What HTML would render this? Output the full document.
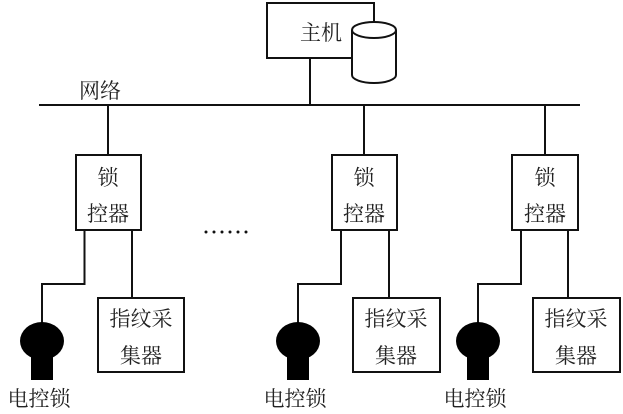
<!DOCTYPE html>
<html><head><meta charset="utf-8"><style>
html,body{margin:0;padding:0;background:#fff;}
svg{display:block}
text{font-family:"Liberation Serif","Noto Serif CJK SC","Noto Sans CJK SC",serif;font-size:21px;fill:#222;text-anchor:middle;}
</style></head><body>
<svg width="623" height="414" viewBox="0 0 623 414" xmlns="http://www.w3.org/2000/svg">
<g stroke="#111" stroke-width="2" fill="none">
<rect x="267" y="3" width="107" height="55" fill="#fff"/>
<path d="M352 30 V75 A22 8 0 0 0 396 75 V30" fill="#fff"/>
<ellipse cx="374" cy="30" rx="22" ry="8" fill="#fff"/>
<line x1="310" y1="58" x2="310" y2="105"/>
<line x1="39" y1="105" x2="580" y2="105"/>
<line x1="108" y1="105" x2="108" y2="155"/>
<line x1="364" y1="105" x2="364" y2="155"/>
<line x1="545" y1="105" x2="545" y2="155"/>
<rect x="76" y="155" width="65" height="75"/>
<rect x="332" y="155" width="65" height="75"/>
<rect x="512" y="155" width="66" height="75"/>
<polyline points="84.5,230 84.5,284 42,284 42,325"/>
<polyline points="341,230 341,284 298,284 298,325"/>
<polyline points="521,230 521,284 478,284 478,325"/>
<line x1="132" y1="230" x2="132" y2="298"/>
<line x1="389" y1="230" x2="389" y2="298"/>
<line x1="568" y1="230" x2="568" y2="298"/>
<rect x="98" y="298" width="86" height="74"/>
<rect x="353" y="298" width="87" height="74"/>
<rect x="533" y="298" width="87" height="74"/>
</g>
<g fill="#000">
<ellipse cx="42" cy="341" rx="22" ry="19"/><rect x="31" y="345" width="22" height="35"/>
<ellipse cx="298" cy="341" rx="22" ry="19"/><rect x="287" y="345" width="22" height="35"/>
<ellipse cx="478" cy="341" rx="22" ry="19"/><rect x="467" y="345" width="22" height="35"/>
</g>
<g fill="#111">
<circle cx="206" cy="232" r="1.5"/><circle cx="214" cy="232" r="1.5"/><circle cx="222" cy="232" r="1.5"/><circle cx="230" cy="232" r="1.5"/><circle cx="238" cy="232" r="1.5"/><circle cx="246" cy="232" r="1.5"/>
</g>
<text x="321" y="40">主机</text>
<text x="100" y="98">网络</text>
<text x="108" y="185">锁</text><text x="108" y="221">控器</text>
<text x="364" y="185">锁</text><text x="364" y="221">控器</text>
<text x="545" y="185">锁</text><text x="545" y="221">控器</text>
<text x="141" y="326">指纹采</text><text x="141" y="363">集器</text>
<text x="396" y="326">指纹采</text><text x="396" y="363">集器</text>
<text x="576" y="326">指纹采</text><text x="576" y="363">集器</text>
<text x="39" y="406">电控锁</text>
<text x="295" y="406">电控锁</text>
<text x="475" y="406">电控锁</text>
</svg>
</body></html>
